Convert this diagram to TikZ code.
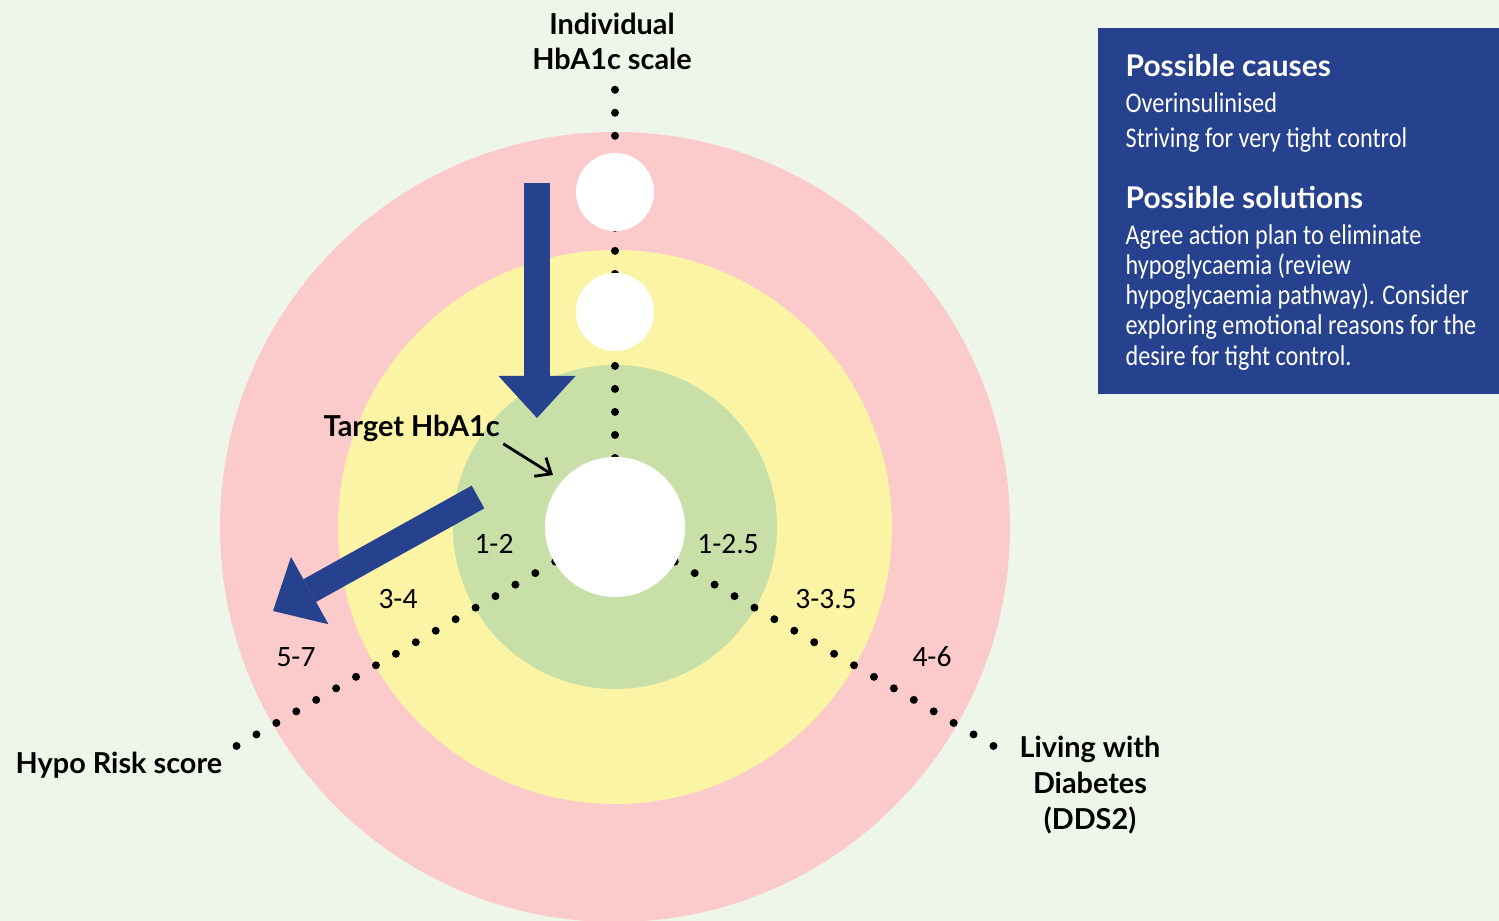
\documentclass[tikz,border=0pt]{standalone}
\usepackage{fontspec}
\setmainfont{Lato}
\newfontfamily\thinfont{Carlito}
\newfontfamily\bodyfont{Carlito}[FakeStretch=0.85]
\usetikzlibrary{arrows.meta}

\definecolor{bgGreen}{HTML}{EEF6E9}
\definecolor{ringRed}{HTML}{FBCACB}
\definecolor{ringYellow}{HTML}{FBF4A5}
\definecolor{ringGreen}{HTML}{C8E0A7}
\definecolor{navy}{HTML}{26418E}

\begin{document}
\begin{tikzpicture}[x=0.01cm, y=-0.01cm,
  every node/.style={inner sep=0pt},
  lbl/.style={font=\fontsize{8.2}{10.2}\selectfont\bfseries, align=center},
  num/.style={font=\thinfont\fontsize{8.4}{10}\selectfont},
  head/.style={font=\fontsize{8.5}{10}\selectfont\bfseries, text=white, anchor=base west},
  body/.style={font=\bodyfont\fontsize{8.1}{8.54}\selectfont, text=white, anchor=base west, align=left},
  dots/.style={line width=0.08cm, line cap=round, dash pattern=on 0pt off 0.23cm},
  hole/.style={circle, fill=white, minimum size=0.78cm},
  bigarrow/.style={draw=navy, line width=0.26cm,
    -{Triangle[length=0.42cm, width=0.77cm, line width=0pt]}}]
\clip (0,0) rectangle (1499,921);
\fill[bgGreen] (0,0) rectangle (1499,921);
\coordinate (c) at (615,527);
% rings
\fill[ringRed] (c) circle (395);
\fill[ringYellow] (c) circle (277);
\fill[ringGreen] (c) circle (162);
% dotted axes
\coordinate (topEnd) at (615,87);
\coordinate (leftEnd) at (233,748);
\coordinate (rightEnd) at (997,748);
\draw[dots] (c) -- (topEnd);
\draw[dots] (c) -- (leftEnd);
\draw[dots] (c) -- (rightEnd);
% white markers
\node (core) [circle, fill=white, minimum size=1.4cm] at (c) {};
\node (outerMark) [hole] at (615,192) {};
\node (midMark) [hole] at (615,312) {};
% blue arrows
\coordinate (downFrom) at (537,183);
\coordinate (downTo) at (537,418);
\coordinate (sideFrom) at (478,497);
\coordinate (sideTo) at (273,611);
\draw[bigarrow] (downFrom) -- (downTo);
\draw[bigarrow] (sideFrom) -- (sideTo);
% labels
\node (scale) [lbl, anchor=base] at (612,70) {Individual\\HbA1c scale};
\node (tgt) [lbl, anchor=base west] at (323,436) {Target HbA1c};
\coordinate (tgtTip) at (553,475);
\draw[line width=0.8pt, -{Straight Barb[length=0.13cm, width=0.22cm]}, shorten <=1pt] (tgt.south east) -- (tgtTip);
\node (hypo) [lbl, anchor=base west] at (15,773) {Hypo Risk score};
\node (dds) [lbl, anchor=base] at (1090,829) {Living with\\Diabetes\\(DDS2)};
% band values
\node (h1) [num, anchor=base] at (494,553) {1-2};
\node (h2) [num, anchor=base] at (398,608) {3-4};
\node (h3) [num, anchor=base] at (296,666) {5-7};
\node (d1) [num, anchor=base] at (728,553) {1-2.5};
\node (d2) [num, anchor=base] at (826,608) {3-3.5};
\node (d3) [num, anchor=base] at (932,666) {4-6};
% info box
\node (box) [fill=navy, anchor=north west, minimum width=4.02cm, minimum height=3.66cm] at (1097,27) {};
\node (causesHead) [head] at (1125,77) {Possible causes};
\node (causes) [body] at (1125,147) {Overinsulinised\\[1.4pt]Striving for very tight control};
\node (solHead) [head] at (1125,208) {Possible solutions};
\node (sol) [body] at (1125,365) {Agree action plan to eliminate\\hypoglycaemia (review\\hypoglycaemia pathway). Consider\\exploring emotional reasons for the\\desire for tight control.};
\end{tikzpicture}
\end{document}
